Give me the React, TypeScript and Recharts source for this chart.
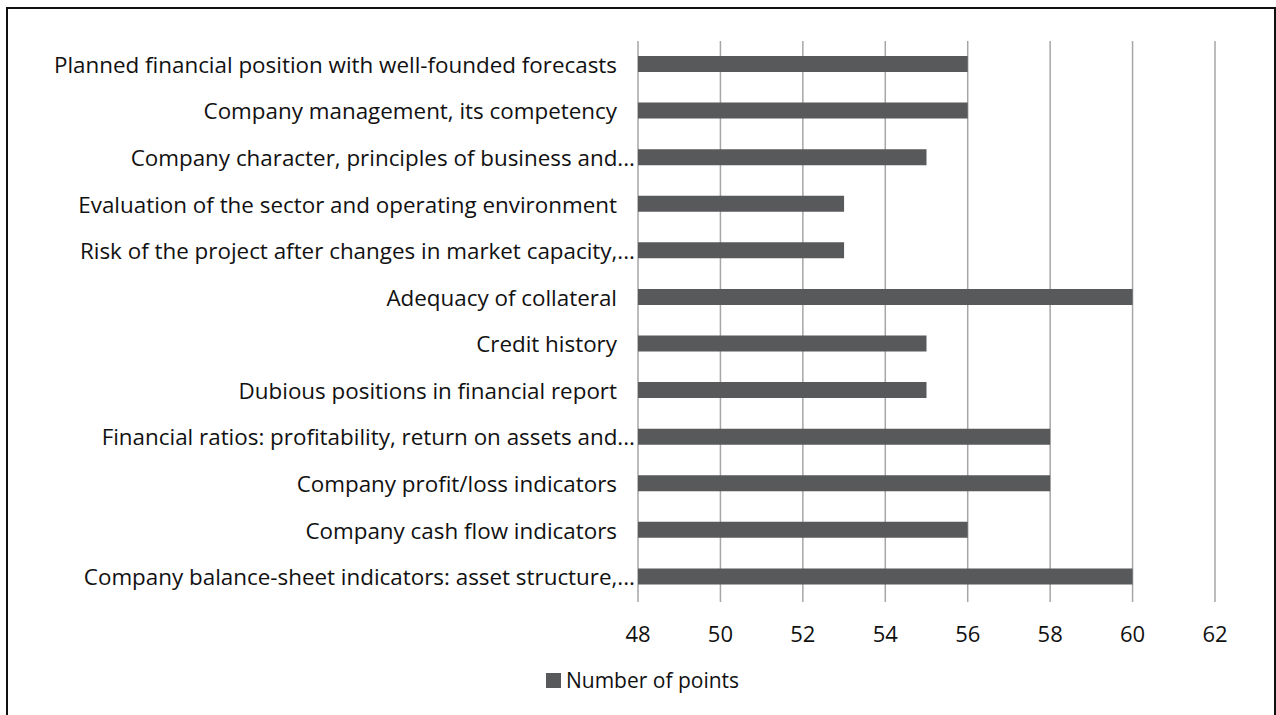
import React from "react";
import { BarChart, Bar, XAxis, YAxis, CartesianGrid, Legend } from "recharts";

const categories = [
  "Planned financial position with well-founded forecasts",
  "Company management, its competency",
  "Company character, principles of business and...",
  "Evaluation of the sector and operating environment",
  "Risk of the project after changes in market capacity,...",
  "Adequacy of collateral",
  "Credit history",
  "Dubious positions in financial report",
  "Financial ratios: profitability, return on assets and...",
  "Company profit/loss indicators",
  "Company cash flow indicators",
  "Company balance-sheet indicators: asset structure,...",
];

const points = [56, 56, 55, 53, 53, 60, 55, 55, 58, 58, 56, 60];

const xTicks = [48, 50, 52, 54, 56, 58, 60, 62];
const seriesName = "Number of points";

const data = categories.map((c, i) => ({ category: c, value: points[i] }));

const FONT = "'Open Sans', 'Noto Sans', sans-serif";
const BAR_COLOR = "#58595b";
const GRID_COLOR = "#a6a6a6";

const CategoryTick = (props: any) => {
  const { x, y, payload } = props;
  const label: string = payload.value;
  const truncated = label.endsWith("...");
  return (
    <text
      x={x - (truncated ? 3 : 21)}
      y={y}
      textAnchor="end"
      dominantBaseline="central"
      fontFamily={FONT}
      fontSize={22.4}
      fill="#111"
    >
      {label}
    </text>
  );
};

const LegendContent = () => (
  <div
    style={{
      display: "flex",
      justifyContent: "center",
      alignItems: "center",
      height: 30,
      fontFamily: FONT,
      fontSize: 21,
      color: "#111",
      paddingLeft: 9,
    }}
  >
    <span
      style={{
        display: "inline-block",
        width: 15,
        height: 15,
        background: BAR_COLOR,
        marginRight: 5,
      }}
    />
    <span style={{ lineHeight: "30px" }}>{seriesName}</span>
  </div>
);

export default function App() {
  return (
    <div
      style={{
        position: "fixed",
        left: 0,
        top: 0,
        width: 1276,
        height: 715,
        background: "#fff",
        overflow: "hidden",
      }}
    >
      <div
        style={{
          position: "absolute",
          left: 6,
          top: 7,
          width: 1270,
          height: 720,
          borderLeft: "2px solid #111",
          borderTop: "2px solid #111",
          borderRight: "2px solid #111",
          boxSizing: "border-box",
          pointerEvents: "none",
          zIndex: 2,
        }}
      />
      <BarChart
        width={1276}
        height={715}
        data={data}
        layout="vertical"
        margin={{ top: 41, right: 61, left: 0, bottom: 20 }}
        barCategoryGap={0}
      >
        <CartesianGrid
          horizontal={false}
          vertical={true}
          stroke={GRID_COLOR}
          strokeWidth={1.5}
        />
        <XAxis
          type="number"
          domain={[48, 62]}
          ticks={xTicks}
          interval={0}
          axisLine={false}
          tickLine={{ stroke: GRID_COLOR, strokeWidth: 1.5 }}
          tickSize={2}
          tickMargin={24}
          height={65}
          tick={{ fontFamily: FONT, fontSize: 22, fill: "#111" }}
          allowDataOverflow
        />
        <YAxis
          type="category"
          dataKey="category"
          width={638}
          axisLine={false}
          tickLine={false}
          tickSize={0}
          tickMargin={0}
          interval={0}
          tick={<CategoryTick />}
        />
        <Legend
          verticalAlign="bottom"
          align="center"
          content={<LegendContent />}
          wrapperStyle={{ left: 0, width: 1276 }}
        />
        <Bar
          dataKey="value"
          name={seriesName}
          fill={BAR_COLOR}
          barSize={16}
          isAnimationActive={false}
        />
      </BarChart>
    </div>
  );
}
